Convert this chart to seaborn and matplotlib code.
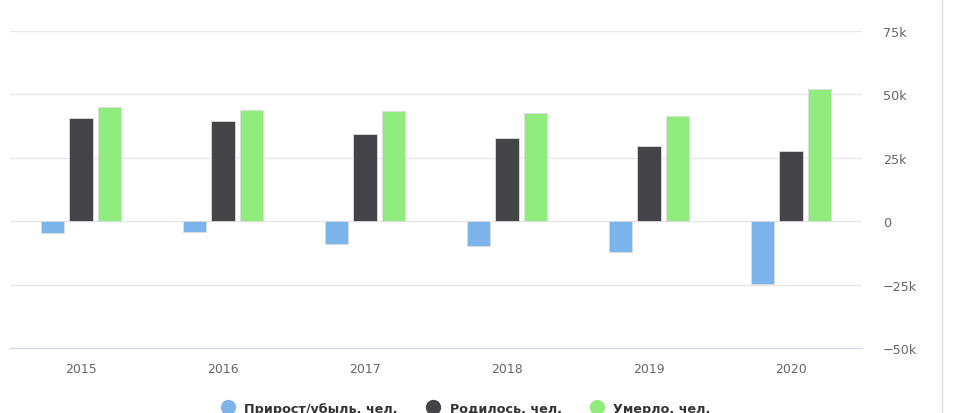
import pandas as pd
import matplotlib.pyplot as plt
import seaborn as sns
from matplotlib.lines import Line2D
from matplotlib.ticker import FuncFormatter

# values (people)
years = ['2015', '2016', '2017', '2018', '2019', '2020']
growth = [-4500, -4100, -9100, -9800, -12000, -24800]
born = [40500, 39600, 34200, 32700, 29500, 27500]
died = [45200, 43700, 43300, 42500, 41300, 52200]
series = ['Прирост/убыль, чел.', 'Родилось, чел.', 'Умерло, чел.']
colors = ['#7cb5ec', '#434348', '#90ed7d']

df = pd.DataFrame({
    'year': years * 3,
    'value': growth + born + died,
    'series': [series[0]] * 6 + [series[1]] * 6 + [series[2]] * 6,
})

sns.set_style('white')
plt.rcParams['font.family'] = ['DejaVu Sans']

fig = plt.figure(figsize=(9.64, 4.14), dpi=100)
ax = fig.add_axes([10 / 964, 1 - 349 / 414, 852 / 964, 317 / 414])

sns.barplot(data=df, x='year', y='value', hue='series', hue_order=series,
            palette=colors, saturation=1, width=0.595, gap=0.18,
            edgecolor='#dddddd', linewidth=0.6, legend=False, ax=ax)

ax.set_ylim(-50000, 75000)
ax.set_yticks([-50000, -25000, 0, 25000, 50000, 75000])
ax.yaxis.set_major_formatter(FuncFormatter(
    lambda v, p: '0' if v == 0 else f'{int(v / 1000)}k'.replace('-', '\u2212')))
ax.yaxis.tick_right()
ax.grid(axis='y', color='#e6e6e6', linewidth=1)
ax.set_axisbelow(True)
for s in ['top', 'left', 'right']:
    ax.spines[s].set_visible(False)
ax.spines['bottom'].set_color('#ccd6eb')
ax.spines['bottom'].set_position(('data', -50000))
ax.tick_params(axis='y', length=0, pad=15, labelsize=9.2, labelcolor='#666666')
ax.tick_params(axis='x', length=0, pad=10, labelsize=9, labelcolor='#666666')
for lbl in ax.get_yticklabels():
    lbl.set_horizontalalignment('left')
ax.set_xlabel('')
ax.set_ylabel('')

# right border line
fig.add_artist(Line2D([942 / 964, 942 / 964], [0, 1], color='#e0e0e0', linewidth=1))

handles = [Line2D([], [], marker='o', linestyle='', markersize=10,
                  markerfacecolor=c, markeredgecolor=c) for c in colors]
fig.legend(handles, series, loc='center', bbox_to_anchor=(0.48, 0.012), ncol=3,
           frameon=False, handletextpad=0.3, columnspacing=1.75,
           labelcolor='#333333', prop={'weight': 'bold', 'size': 9.2})

fig.savefig('out.png', dpi=100)
